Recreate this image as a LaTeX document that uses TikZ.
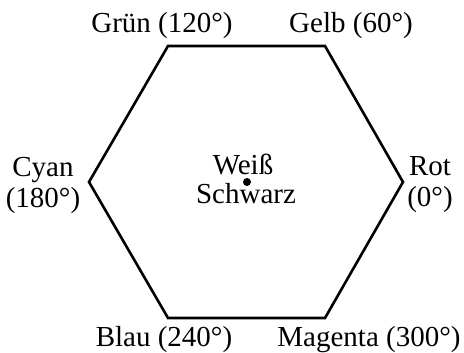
\documentclass[tikz,border=0pt]{standalone}
\usepackage{fontspec}
\setmainfont{Liberation Serif}
\begin{document}
\begin{tikzpicture}[x=1pt,y=-1pt,
  edge/.style={line width=2.6pt, line join=miter},
  lbl/.style={inner sep=0pt, align=center, font=\fontsize{29}{31}\selectfont},
  lblb/.style={inner sep=0pt, anchor=base, font=\fontsize{29}{31}\selectfont}]
\useasboundingbox (0,0) rectangle (464,353);
\coordinate (v0) at (403,182);
\coordinate (v60) at (325,46);
\coordinate (v120) at (168,46);
\coordinate (v180) at (89,182);
\coordinate (v240) at (168,318);
\coordinate (v300) at (325,318);
\draw[edge] (v0) -- (v60) -- (v120) -- (v180) -- (v240) -- (v300) -- cycle;
\fill (247,182) circle (4pt);
\node[lblb] (gruen) at (162,33) {Grün (120°)};
\node[lblb] (gelb) at (351,33) {Gelb (60°)};
\node[lbl] (cyan) at (43,185) {Cyan\\(180°)};
\node[lbl] (rot) at (430,185) {Rot\\(0°)};
\node[lblb] (blau) at (164,346) {Blau (240°)};
\node[lblb] (magenta) at (369,346) {Magenta (300°)};
\node[lblb] (weiss) at (243,175) {Weiß};
\node[lblb] (schwarz) at (246,204) {Schwarz};
\end{tikzpicture}
\end{document}
